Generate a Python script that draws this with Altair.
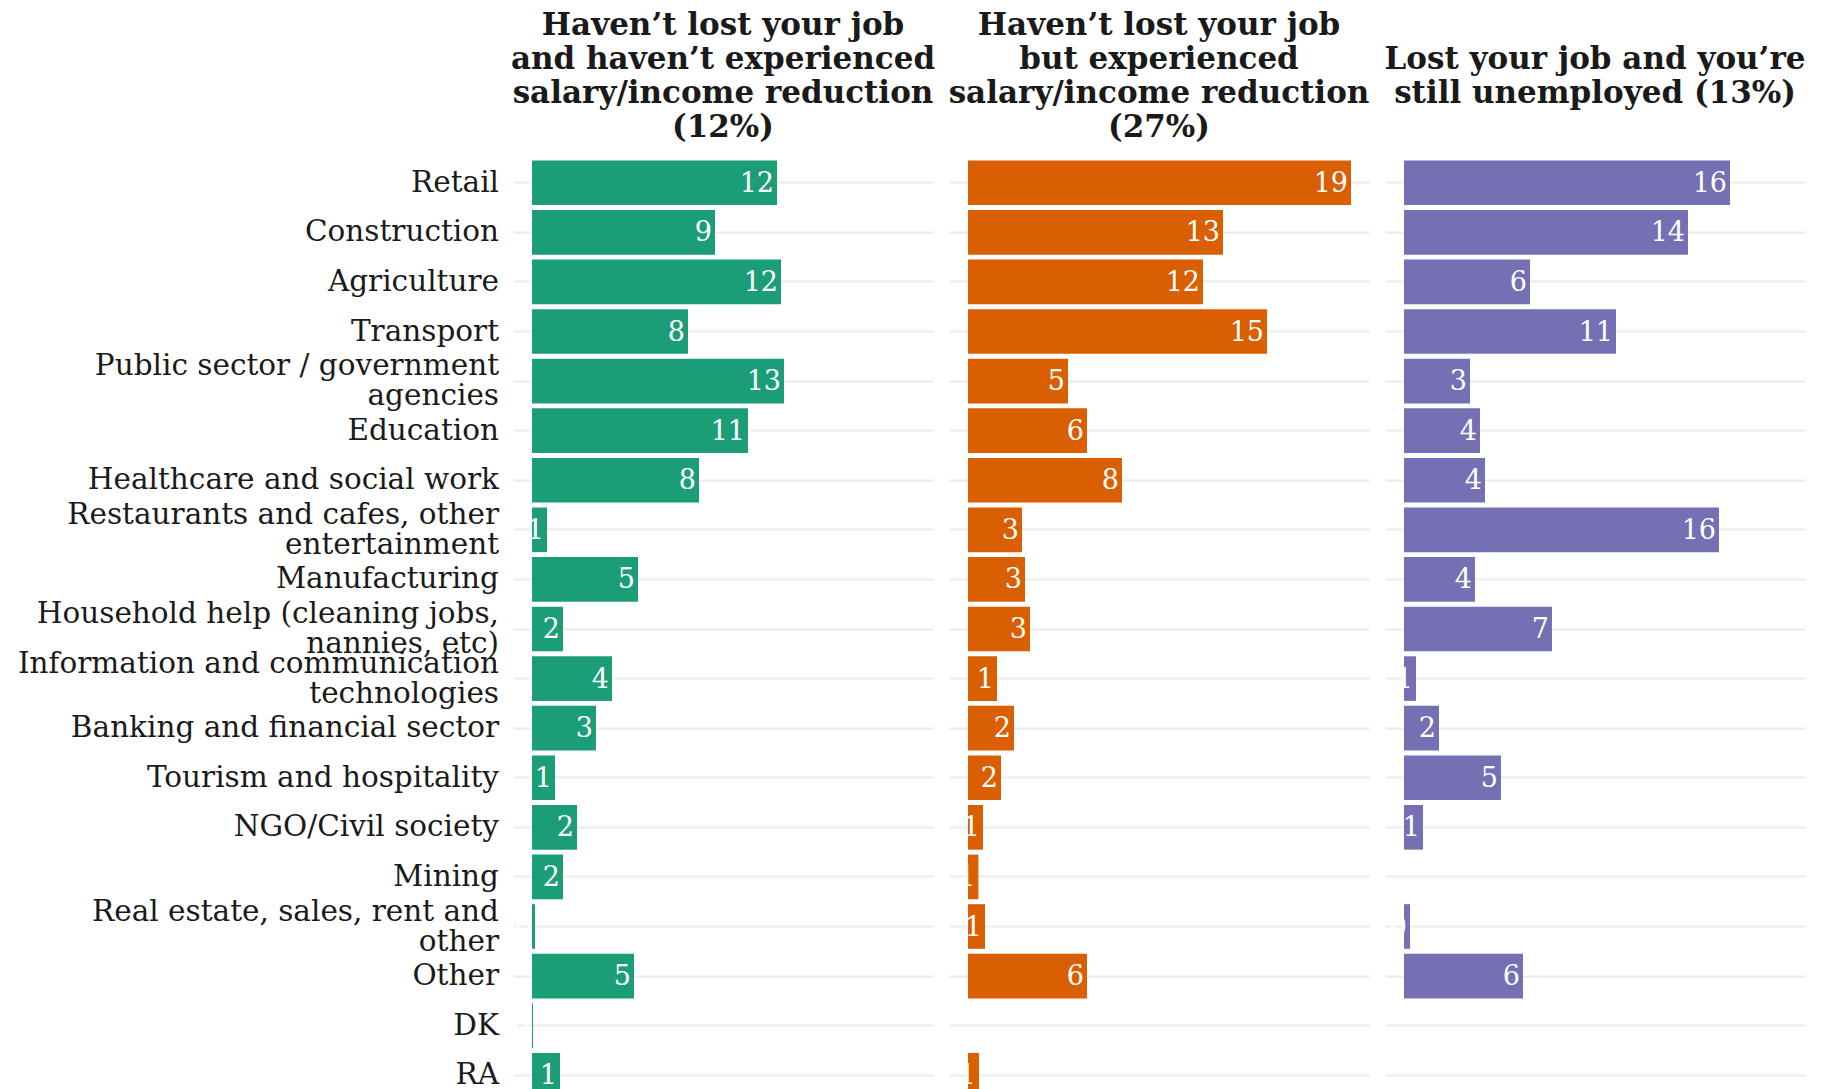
import altair as alt
import pandas as pd

categories = [
    "Retail",
    "Construction",
    "Agriculture",
    "Transport",
    "Public sector / government\nagencies",
    "Education",
    "Healthcare and social work",
    "Restaurants and cafes, other\nentertainment",
    "Manufacturing",
    "Household help (cleaning jobs,\nnannies, etc)",
    "Information and communication\ntechnologies",
    "Banking and financial sector",
    "Tourism and hospitality",
    "NGO/Civil society",
    "Mining",
    "Real estate, sales, rent and\nother",
    "Other",
    "DK",
    "RA",
]

not_lost_no_reduction = [12.25, 9.15, 12.45, 7.8, 12.6, 10.8, 8.35, 0.75, 5.3, 1.55,
                         4.0, 3.2, 1.15, 2.25, 1.55, 0.15, 5.1, 0.05, 1.4]
not_lost_reduction = [19.15, 12.75, 11.75, 14.95, 5.0, 5.95, 7.7, 2.7, 2.85, 3.1,
                      1.45, 2.3, 1.65, 0.75, 0.52, 0.85, 5.95, None, 0.55]
lost_unemployed = [16.3, 14.2, 6.3, 10.6, 3.3, 3.8, 4.05, 15.75, 3.55, 7.4,
                   0.6, 1.75, 4.85, 0.95, None, 0.3, 5.95, None, None]

titles = [
    ["Haven\u2019t lost your job", "and haven\u2019t experienced", "salary/income reduction", "(12%)"],
    ["Haven\u2019t lost your job", "but experienced", "salary/income reduction", "(27%)"],
    ["Lost your job and you\u2019re", "still unemployed (13%)"],
]
colors = ["#1B9E77", "#D95F02", "#7570B3"]
series = [not_lost_no_reduction, not_lost_reduction, lost_unemployed]

FONT = "DejaVu Serif"
PANEL_W = 420
PANEL_H = 952
LABEL_LH = 30


def panel(idx):
    vals = series[idx]
    df = pd.DataFrame({"category": categories, "value": vals}).dropna()
    base = alt.Chart(df)
    yaxis = alt.Axis(
        title=None, ticks=False, domain=False, grid=True, bandPosition=0.5,
        labels=False,
        minExtent=505 if idx == 0 else 0, maxExtent=505 if idx == 0 else 0,
        gridColor="#ebebeb", gridWidth=2,
    )
    y = alt.Y("category:N", sort=categories,
              scale=alt.Scale(domain=categories, paddingInner=0.1, paddingOuter=0.15),
              axis=yaxis)
    x = alt.X("value:Q", axis=None,
              scale=alt.Scale(domain=[-0.95, 20.05], nice=False, zero=False))
    bars = base.mark_bar(color=colors[idx]).encode(y=y, x=x, x2=alt.datum(0))
    text = base.mark_text(
        align="right", baseline="middle", dx=-3, dy=1, color="white",
        font=FONT, fontSize=27,
    ).encode(y=y, x=x, text=alt.Text("value:Q", format=".0f"))
    layers = [bars, text]
    if idx == 0:
        lab = pd.DataFrame({"category": categories})
        lab["lines"] = lab["category"].str.count("\n") + 1
        lab_base = alt.Chart(lab)
        for n in (1, 2):
            layers.append(
                lab_base.transform_filter(f"datum.lines == {n}").mark_text(
                    align="right", baseline="middle", font=FONT, fontSize=29.5,
                    color="#1a1a1a", lineBreak="\n", lineHeight=LABEL_LH,
                    dy=-(n - 1) * LABEL_LH / 2,
                ).encode(y=y, x=alt.value(-14), text="category:N")
            )
    offset = 9.5 if len(titles[idx]) == 4 else 43.5
    return alt.layer(*layers).properties(
        width=PANEL_W, height=PANEL_H,
        title=alt.TitleParams(
            text=titles[idx], font=FONT, fontSize=31, fontWeight="bold",
            lineHeight=34, anchor="middle", color="#1a1a1a", offset=offset,
        ),
    )


chart = alt.hconcat(panel(0), panel(1), panel(2), spacing=16, bounds="flush").properties(
    padding={"left": 0, "top": 1, "right": 0, "bottom": 0}
).configure_view(stroke=None)

chart.save("out.html", embed_options={"renderer": "svg", "actions": False})
